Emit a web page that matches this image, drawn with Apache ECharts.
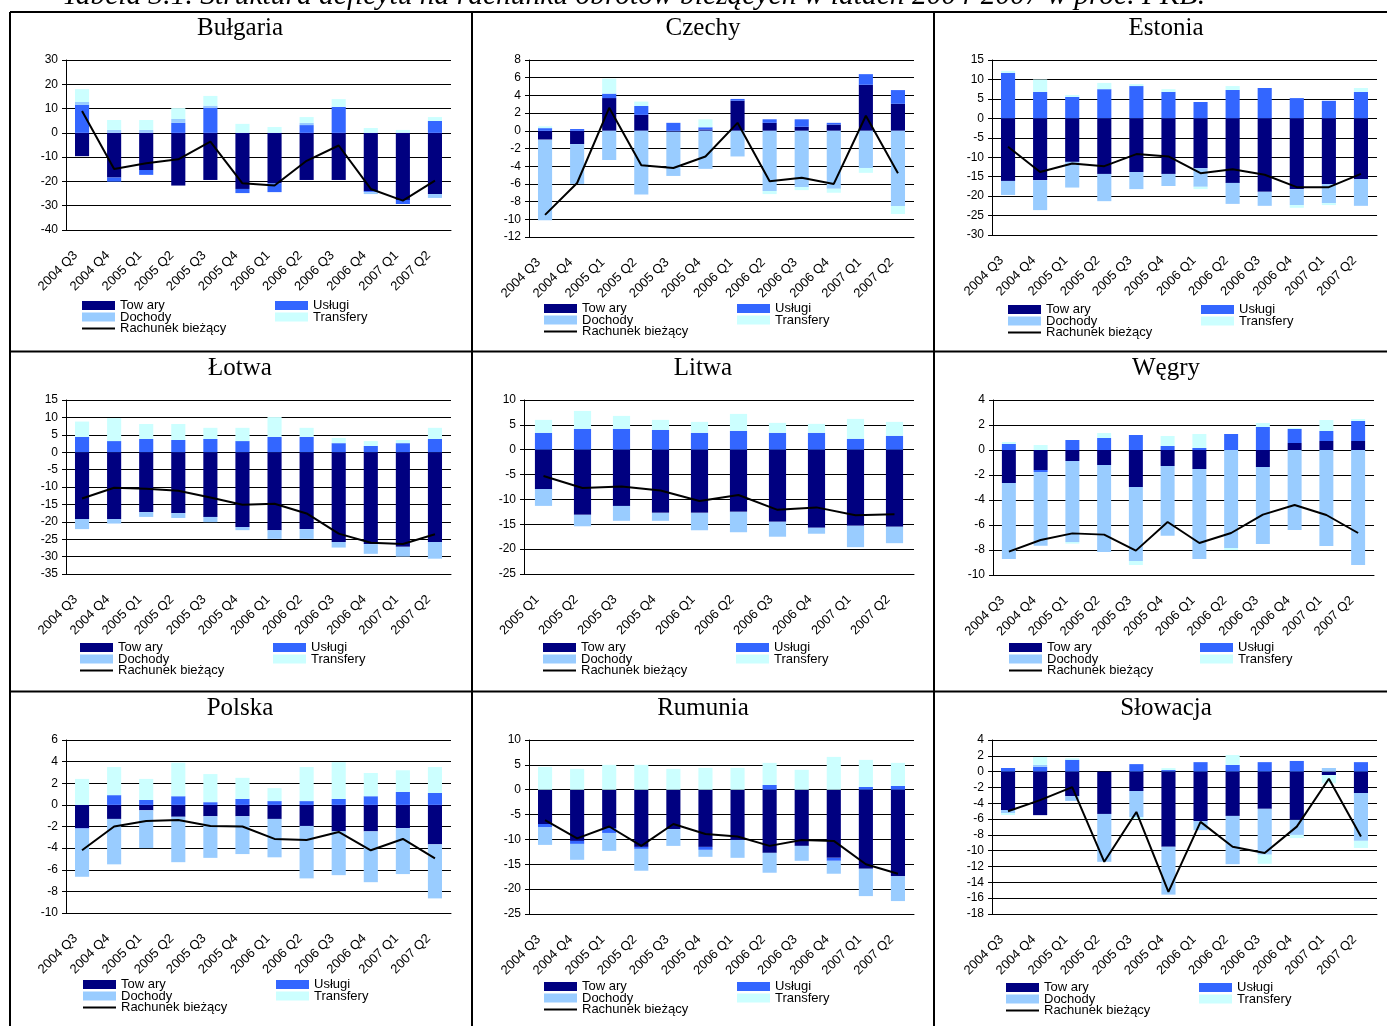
<!DOCTYPE html>
<html><head><meta charset="utf-8">
<script src="https://cdn.jsdelivr.net/npm/echarts@6/dist/echarts.min.js"></script>
<style>html,body{margin:0;padding:0;background:#fff}#c{width:1387px;height:1026px}</style>
</head><body><div id="c"></div>
<script>
// ---------- categories ----------
const CATS_12 = ['2004 Q3','2004 Q4','2005 Q1','2005 Q2','2005 Q3','2005 Q4','2006 Q1','2006 Q2','2006 Q3','2006 Q4','2007 Q1','2007 Q2'];
const CATS_10 = ['2005 Q1','2005 Q2','2005 Q3','2005 Q4','2006 Q1','2006 Q2','2006 Q3','2006 Q4','2007 Q1','2007 Q2'];
const SERIES_NAMES = ['Tow ary','Usługi','Dochody','Transfery','Rachunek bieżący'];
const COUNTRIES = ['Bułgaria','Czechy','Estonia','Łotwa','Litwa','Węgry','Polska','Rumunia','Słowacja'];

// ---------- Bułgaria ----------
const BG_TOWARY    = [-9.6,-18.4,-15.3,-21.7,-19.4,-23.1,-20.8,-19.4,-19.4,-24.0,-27.6,-25.2];
const BG_USLUGI    = [11.5,-1.7,-2.0,4.1,10.4,-1.7,-3.6,3.2,10.7,-0.4,-1.7,4.9];
const BG_DOCHODY   = [1.2,1.2,1.2,1.6,0.8,0,0,0.9,0,-0.8,0,-1.6];
const BG_TRANSFERY = [5.3,4.1,4.1,4.5,4.0,3.7,2.4,2.4,3.2,2.0,1.2,1.6];
const BG_RACHUNEK  = [9.0,-14.9,-12.5,-10.9,-3.6,-20.8,-21.7,-11.5,-5.2,-23.1,-27.9,-19.7];
// ---------- Czechy ----------
const CZ_TOWARY    = [-1.0,-1.5,3.7,1.8,-0.1,0.15,3.4,0.9,0.45,0.7,5.2,3.05];
const CZ_USLUGI    = [0.3,0.2,0.5,1.0,0.9,0.25,0.2,0.4,0.85,0.2,1.2,1.55];
const CZ_DOCHODY   = [-9.1,-4.5,-3.3,-7.2,-5.0,-4.3,-2.9,-6.8,-6.35,-6.55,-4.2,-8.5];
const CZ_TRANSFERY = [0.2,0,1.7,0.5,0,0.9,0,-0.35,-0.35,-0.45,-0.55,-0.9];
const CZ_RACHUNEK  = [-9.5,-5.9,2.6,-3.9,-4.2,-2.9,0.9,-5.7,-5.3,-6.0,1.7,-4.8];
// ---------- Estonia ----------
const EE_TOWARY    = [-16.1,-15.9,-11.2,-14.3,-13.8,-14.3,-12.8,-16.6,-18.9,-18.2,-16.9,-15.6];
const EE_USLUGI    = [11.7,6.8,5.5,7.5,8.3,6.8,4.2,7.3,7.8,5.2,4.5,6.8];
const EE_DOCHODY   = [-3.6,-7.7,-6.6,-7.0,-4.4,-3.1,-4.8,-5.4,-3.6,-4.1,-4.9,-6.9];
const EE_TRANSFERY = [0.5,3.2,0.5,1.6,0.5,0.7,-0.6,1.0,0,-0.7,-0.5,1.0];
const EE_RACHUNEK  = [-7.3,-13.8,-11.6,-12.3,-9.2,-9.8,-14.1,-13.1,-14.5,-17.7,-17.7,-14.3];
// ---------- Łotwa ----------
const LV_TOWARY    = [-19.2,-19.2,-17.2,-17.5,-18.6,-21.5,-22.4,-22.1,-25.8,-26.4,-27.2,-25.8];
const LV_USLUGI    = [4.4,3.2,3.8,3.5,3.8,3.2,4.4,4.4,2.6,1.8,2.6,3.8];
const LV_DOCHODY   = [-2.9,-1.3,-1.4,-1.4,-1.5,-0.9,-2.5,-2.8,-1.6,-2.8,-2.8,-4.8];
const LV_TRANSFERY = [4.4,6.6,4.3,4.6,3.2,3.8,5.7,2.6,1.5,1.4,0.9,3.2];
const LV_RACHUNEK  = [-13.3,-10.2,-10.5,-11.1,-13.0,-15.1,-14.8,-17.6,-23.4,-26.0,-26.4,-23.6];
// ---------- Litwa ----------
const LT_TOWARY    = [-7.9,-13.1,-11.3,-12.7,-12.7,-12.5,-14.5,-15.7,-15.3,-15.5];
const LT_USLUGI    = [3.4,4.2,4.2,4.0,3.4,3.8,3.4,3.4,2.2,2.8];
const LT_DOCHODY   = [-3.4,-2.3,-3.0,-1.6,-3.5,-4.1,-3.0,-1.2,-4.3,-3.3];
const LT_TRANSFERY = [2.6,3.6,2.6,2.0,2.2,3.4,2.0,1.8,4.0,2.8];
const LT_RACHUNEK  = [-5.3,-7.7,-7.4,-8.2,-10.3,-9.1,-12.1,-11.6,-13.2,-13.0];
// ---------- Węgry ----------
const HU_TOWARY    = [-2.64,-1.6,-0.88,-1.2,-2.96,-1.28,-1.52,0,-1.36,0.56,0.72,0.72];
const HU_USLUGI    = [0.48,-0.16,0.8,0.96,1.2,0.32,0.16,1.28,1.84,1.12,0.8,1.6];
const HU_DOCHODY   = [-6.08,-5.9,-6.48,-6.96,-5.92,-5.57,-7.2,-7.84,-6.16,-6.4,-7.68,-9.2];
const HU_TRANSFERY = [0.16,0.4,-0.13,0.4,-0.32,0.8,1.12,-0.16,0.32,0.08,0.88,0.16];
const HU_RACHUNEK  = [-8.13,-7.2,-6.67,-6.77,-8.05,-5.76,-7.44,-6.64,-5.17,-4.4,-5.2,-6.64];
// ---------- Polska ----------
const PL_TOWARY    = [-2.15,-1.3,-0.5,-1.1,-1.05,-1.05,-1.3,-1.95,-2.45,-2.45,-2.15,-3.65];
const PL_USLUGI    = [-0.05,0.9,0.45,0.8,0.25,0.55,0.35,0.35,0.55,0.8,1.2,1.1];
const PL_DOCHODY   = [-4.45,-4.2,-3.5,-4.2,-3.85,-3.5,-3.55,-4.85,-4.05,-4.7,-4.25,-5.0];
const PL_TRANSFERY = [2.4,2.6,1.95,3.1,2.6,1.95,1.2,3.15,3.4,2.15,2.0,2.4];
const PL_RACHUNEK  = [-4.2,-2.0,-1.5,-1.4,-1.95,-2.0,-3.15,-3.25,-2.5,-4.2,-3.15,-4.95];
// ---------- Rumunia ----------
const RO_TOWARY    = [-6.9,-10.3,-7.7,-11.5,-7.9,-11.5,-10.1,-12.7,-11.3,-13.7,-15.9,-17.4];
const RO_USLUGI    = [-0.6,-0.6,-1.0,-0.4,0,-0.6,0,0.95,0,-0.6,0.55,0.75];
const RO_DOCHODY   = [-3.6,-3.2,-3.6,-4.4,-3.4,-1.4,-3.6,-4.0,-3.0,-2.6,-5.5,-5.0];
const RO_TRANSFERY = [4.6,4.2,5.0,5.0,4.2,4.4,4.4,4.45,4.0,6.6,5.45,4.65];
const RO_RACHUNEK  = [-6.1,-9.8,-7.4,-11.3,-6.9,-8.9,-9.4,-11.3,-10.1,-10.3,-15.0,-16.9];
// ---------- Słowacja ----------
const SK_TOWARY    = [-4.85,-5.5,-3.1,-5.35,-2.45,-9.5,-6.25,-5.6,-4.7,-6.1,-0.43,-2.7];
const SK_USLUGI    = [0.46,0.6,1.5,0,0.95,0.2,1.2,0.85,1.2,1.35,0,1.2];
const SK_DOCHODY   = [-0.38,0.25,-0.6,-6.05,-3.3,-6.05,-1.15,-6.1,-5.8,-1.9,0.46,-6.05];
const SK_TRANSFERY = [-0.25,1.0,0.2,0,-0.25,0.25,0,1.25,-1.15,-0.4,-1.05,-0.9];
const SK_RACHUNEK  = [-5.0,-3.6,-1.95,-11.4,-5.1,-15.2,-6.35,-9.5,-10.3,-6.95,-0.9,-8.2];

// ---------- y-axis scales (tick labels) ----------
const Y_MIN      = [-40,-12,-30,-35,-25,-10,-10,-25,-18];
const Y_MAX      = [30,8,15,15,10,4,6,10,4];
const Y_INTERVAL = [10,2,5,5,5,2,2,5,2];

const PANEL_DATA = [
  [CATS_12, BG_TOWARY, BG_USLUGI, BG_DOCHODY, BG_TRANSFERY, BG_RACHUNEK],
  [CATS_12, CZ_TOWARY, CZ_USLUGI, CZ_DOCHODY, CZ_TRANSFERY, CZ_RACHUNEK],
  [CATS_12, EE_TOWARY, EE_USLUGI, EE_DOCHODY, EE_TRANSFERY, EE_RACHUNEK],
  [CATS_12, LV_TOWARY, LV_USLUGI, LV_DOCHODY, LV_TRANSFERY, LV_RACHUNEK],
  [CATS_10, LT_TOWARY, LT_USLUGI, LT_DOCHODY, LT_TRANSFERY, LT_RACHUNEK],
  [CATS_12, HU_TOWARY, HU_USLUGI, HU_DOCHODY, HU_TRANSFERY, HU_RACHUNEK],
  [CATS_12, PL_TOWARY, PL_USLUGI, PL_DOCHODY, PL_TRANSFERY, PL_RACHUNEK],
  [CATS_12, RO_TOWARY, RO_USLUGI, RO_DOCHODY, RO_TRANSFERY, RO_RACHUNEK],
  [CATS_12, SK_TOWARY, SK_USLUGI, SK_DOCHODY, SK_TRANSFERY, SK_RACHUNEK]
];

// ---------- layout (positions only) ----------
const LAYOUT = [
  {left:66,  top:60,  width:385, height:170, lgX:82,   lgY:299, lg2X:276,  tx:240,  ty:28},
  {left:529, top:60,  width:385, height:177, lgX:544,  lgY:302, lg2X:738,  tx:703,  ty:28},
  {left:992, top:60,  width:385, height:175, lgX:1008, lgY:303, lg2X:1202, tx:1166, ty:28},
  {left:66,  top:400, width:385, height:174, lgX:80,   lgY:641, lg2X:274,  tx:240,  ty:368},
  {left:524, top:400, width:390, height:174, lgX:543,  lgY:641, lg2X:737,  tx:703,  ty:368},
  {left:993, top:400, width:381, height:175, lgX:1009, lgY:641, lg2X:1201, tx:1166, ty:368},
  {left:66,  top:740, width:385, height:173, lgX:83,   lgY:978, lg2X:277,  tx:240,  ty:708},
  {left:529, top:740, width:385, height:174, lgX:544,  lgY:980, lg2X:738,  tx:703,  ty:708},
  {left:992, top:740, width:385, height:174, lgX:1006, lgY:981, lg2X:1200, tx:1166, ty:708}
];
const COLORS = ['#000080','#3366FF','#99CCFF','#CCFFFF'];
const SANS = 'Liberation Sans, Arial, sans-serif';
const SERIF = 'Liberation Serif, Times New Roman, serif';

const grid=[], xAxis=[], yAxis=[], series=[], legend=[], graphic=[];
LAYOUT.forEach((L,i)=>{
  const d = PANEL_DATA[i];
  grid.push({left:L.left, top:L.top, width:L.width, height:L.height, containLabel:false});
  xAxis.push({type:'category', gridIndex:i, data:d[0], boundaryGap:true,
    axisLine:{show:true, onZero:false, lineStyle:{color:'#000', width:1}},
    axisTick:{show:false},
    axisLabel:{rotate:45, interval:0, margin:17, padding:[0,9,0,0], fontSize:13, fontFamily:SANS, color:'#000'},
    splitLine:{show:false}});
  yAxis.push({type:'value', gridIndex:i, min:Y_MIN[i], max:Y_MAX[i], interval:Y_INTERVAL[i],
    axisLine:{show:true, lineStyle:{color:'#000', width:1}},
    axisTick:{show:true, length:4, lineStyle:{color:'#000'}},
    axisLabel:{margin:8, fontSize:12, fontFamily:SANS, color:'#000'},
    splitLine:{show:true, lineStyle:{color:'#000', width:1}}});
  for(let k=0;k<4;k++){
    series.push({type:'bar', name:SERIES_NAMES[k], xAxisIndex:i, yAxisIndex:i, stack:'s'+i,
      stackStrategy:'samesign', barWidth:'44%', data:d[k+1],
      itemStyle:{color:COLORS[k]}, emphasis:{disabled:true}});
  }
  series.push({type:'line', name:SERIES_NAMES[4], xAxisIndex:i, yAxisIndex:i, data:d[5],
    symbol:'none', lineStyle:{color:'#000', width:2}, itemStyle:{color:'#000'}, z:5});
  const lgCommon = {orient:'vertical', top:L.lgY, padding:0, itemWidth:33, itemHeight:9, itemGap:-1.5,
    selectedMode:false, textStyle:{fontSize:13, lineHeight:12, fontFamily:SANS, color:'#000'}};
  legend.push(Object.assign({}, lgCommon, {left:L.lgX - 1,
    data:[{name:SERIES_NAMES[0], icon:'rect'},{name:SERIES_NAMES[2], icon:'rect'},
          {name:SERIES_NAMES[4], itemStyle:{opacity:0, borderWidth:0}}]}));
  legend.push(Object.assign({}, lgCommon, {left:L.lg2X - 1,
    data:[{name:SERIES_NAMES[1], icon:'rect'},{name:SERIES_NAMES[3], icon:'rect'}]}));
  graphic.push({type:'text', x:L.tx, y:L.ty,
    style:{text:COUNTRIES[i], font:'25px '+SERIF, fill:'#000', textAlign:'center', textVerticalAlign:'middle'}});
});

// table borders
const BORDER = {stroke:'#000', lineWidth:2};
[[10,12,1387,12],[10,351.5,1387,351.5],[10,691.5,1387,691.5],
 [10,12,10,1026],[472,12,472,1026],[934,12,934,1026]].forEach(s=>{
  graphic.push({type:'line', shape:{x1:s[0],y1:s[1],x2:s[2],y2:s[3]}, style:BORDER, z:10});
});
graphic.push({type:'text', x:62, y:-4,
  style:{text:'Tabela 3.1. Struktura deficytu na rachunku obrotów bieżących w latach 2004-2007 w proc. PKB.',
  font:'italic 29.5px '+SERIF, fill:'#000', textAlign:'left', textVerticalAlign:'middle'}});

const chart = echarts.init(document.getElementById('c'), null, {renderer:'canvas'});
chart.setOption({backgroundColor:'#fff', animation:false, grid, xAxis, yAxis, series, legend, graphic, tooltip:{show:false}});
</script></body></html>
